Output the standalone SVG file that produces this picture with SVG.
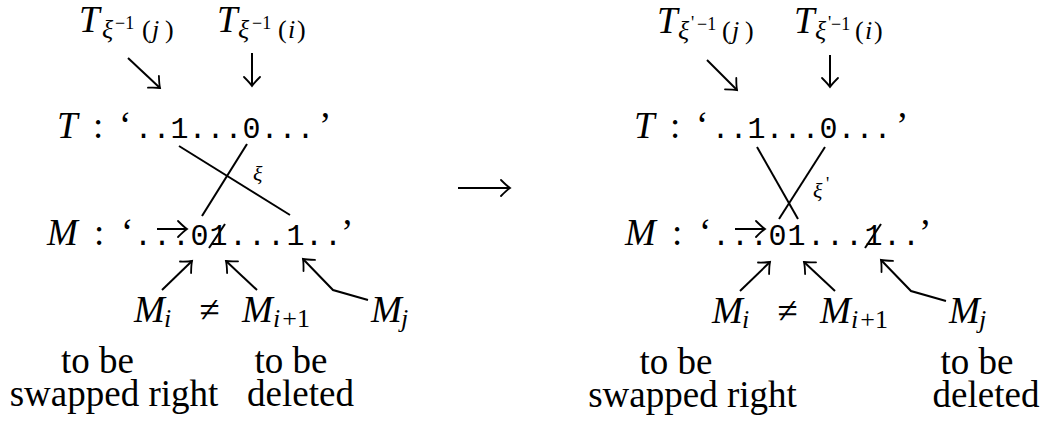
<svg xmlns="http://www.w3.org/2000/svg" width="1049" height="422" viewBox="0 0 1049 422">
<defs>
<marker id="ah" markerUnits="userSpaceOnUse" markerWidth="24" markerHeight="24" viewBox="-12 -12 16 24" refX="0" refY="0" orient="auto">
<path d="M-9,-8 Q-3,-2 0,0 Q-3,2 -9,8" fill="none" stroke="#000" stroke-width="1.8" stroke-linecap="round"/>
</marker>
<style>
text{font-family:'Liberation Serif',serif;fill:#000}
.it{font-style:italic}
.tt{font-family:'Liberation Mono',monospace;font-size:30px}
.big{font-size:37px}
.sub{font-size:26px}
.ss{font-size:18px}
.xi{font-size:22px}
.note{font-size:37px;text-anchor:middle}
.ln{stroke:#000;stroke-width:2;fill:none}
.ar{stroke:#000;stroke-width:2;fill:none;marker-end:url(#ah)}
</style>
</defs>
<rect width="1049" height="422" fill="#fff"/>

<g id="left-Tj">
<text class="it big" x="79" y="32">T</text>
<text class="it sub" x="102" y="38">ξ</text>
<text class="ss" x="115" y="29">−1</text>
<text class="sub" y="38"><tspan x="142">(</tspan><tspan class="it" x="152">j</tspan><tspan x="165">)</tspan></text>
</g>
<g id="left-Ti">
<text class="it big" x="217" y="32">T</text>
<text class="it sub" x="238" y="38">ξ</text>
<text class="ss" x="252" y="29">−1</text>
<text class="sub" y="38"><tspan x="278">(</tspan><tspan class="it" x="288">i</tspan><tspan x="297">)</tspan></text>
</g>
<g id="left-T">
<text class="it big" x="57" y="138">T</text>
<text class="big" x="93" y="138">:</text>
<text class="big" x="119" y="138">‘</text>
<text class="tt" y="138" text-anchor="middle" x="143.5 161.5 179.5 197.5 215.5 233.5 251.5 269.5 287.5 305.5">..1...0...</text>
<text class="big" x="319" y="138">’</text>
</g>
<g id="left-xi">
<text class="it xi" x="253" y="181">ξ</text>
</g>
<g id="left-M">
<text class="it big" x="47" y="245">M</text>
<text class="big" x="94" y="245">:</text>
<text class="big" x="121" y="245">‘</text>
<text class="tt" y="245" text-anchor="middle" x="143 162 181 199.5 218.5 238 257 276 295.5 314 333">...01...1..</text>
<line class="ln" x1="209" y1="248" x2="225" y2="224"/>
<line class="ar" x1="157" y1="229" x2="187" y2="229"/>
<text class="big" x="341" y="245">’</text>
</g>
<g id="left-Mi">
<text class="it big" x="134" y="322">M</text>
<text class="it sub" x="164" y="327">i</text>
</g>
<g id="left-neq">
<text class="big" x="209.5" y="322" text-anchor="middle">≠</text>
</g>
<g id="left-Mi1">
<text class="it big" x="242" y="322">M</text>
<text class="sub" y="327"><tspan class="it" x="273">i</tspan><tspan dx="2">+1</tspan></text>
</g>
<g id="left-Mj">
<text class="it big" x="371" y="322">M</text>
<text class="it sub" x="401" y="327">j</text>
</g>
<g id="left-note-swap">
<text class="note" x="97.5" y="373">to be</text>
<text class="note" x="114" y="406">swapped right</text>
</g>
<g id="left-note-delete">
<text class="note" x="291" y="373">to be</text>
<text class="note" x="300.5" y="406">deleted</text>
</g>

<g id="right-Tj">
<text class="it big" x="657" y="33">T</text>
<text class="it sub" x="678" y="39">ξ</text>
<text class="ss" x="691" y="29">'</text>
<text class="ss" x="697" y="30">−1</text>
<text class="sub" y="39"><tspan x="722">(</tspan><tspan class="it" x="732">j</tspan><tspan x="745">)</tspan></text>
</g>
<g id="right-Ti">
<text class="it big" x="794" y="33">T</text>
<text class="it sub" x="815" y="39">ξ</text>
<text class="ss" x="828" y="29">'</text>
<text class="ss" x="831" y="30">−1</text>
<text class="sub" y="39"><tspan x="855">(</tspan><tspan class="it" x="865">i</tspan><tspan x="874">)</tspan></text>
</g>
<g id="right-T">
<text class="it big" x="634" y="138">T</text>
<text class="big" x="670" y="138">:</text>
<text class="big" x="696" y="138">‘</text>
<text class="tt" y="138" text-anchor="middle" x="720.5 738.5 756.5 774.5 792.5 810.5 828.5 846.5 864.5 882.5">..1...0...</text>
<text class="big" x="896" y="138">’</text>
</g>
<g id="right-xi">
<text class="it xi" x="813" y="198">ξ</text>
<text class="ss" x="826" y="190">'</text>
</g>
<g id="right-M">
<text class="it big" x="625" y="245">M</text>
<text class="big" x="672" y="245">:</text>
<text class="big" x="699" y="245">‘</text>
<text class="tt" y="245" text-anchor="middle" x="721 740 759 777.5 796.5 816 835 854 873.5 892 911">...01...1..</text>
<line class="ln" x1="865" y1="248" x2="881" y2="224"/>
<line class="ar" x1="735" y1="229" x2="765" y2="229"/>
<text class="big" x="919" y="245">’</text>
</g>
<g id="right-Mi">
<text class="it big" x="712" y="323">M</text>
<text class="it sub" x="742" y="328">i</text>
</g>
<g id="right-neq">
<text class="big" x="787.5" y="323" text-anchor="middle">≠</text>
</g>
<g id="right-Mi1">
<text class="it big" x="820" y="323">M</text>
<text class="sub" y="328"><tspan class="it" x="851">i</tspan><tspan dx="2">+1</tspan></text>
</g>
<g id="right-Mj">
<text class="it big" x="949" y="323">M</text>
<text class="it sub" x="979" y="328">j</text>
</g>
<g id="right-note-swap">
<text class="note" x="676" y="374">to be</text>
<text class="note" x="692.5" y="407">swapped right</text>
</g>
<g id="right-note-delete">
<text class="note" x="977" y="374">to be</text>
<text class="note" x="986" y="407">deleted</text>
</g>

<g id="connectors">
<line class="ar" x1="128" y1="58" x2="160" y2="88"/>
<line class="ar" x1="252" y1="53" x2="252" y2="86"/>
<line class="ln" x1="179" y1="146" x2="290" y2="215"/>
<line class="ln" x1="247" y1="144" x2="202" y2="216"/>
<line class="ar" x1="162" y1="290" x2="192" y2="261"/>
<line class="ar" x1="257" y1="290" x2="226" y2="261"/>
<polyline class="ar" points="368,300 333,290 303,259"/>
<line class="ar" x1="458" y1="188" x2="510" y2="188"/>
<line class="ar" x1="707" y1="60" x2="737" y2="90"/>
<line class="ar" x1="830" y1="55" x2="830" y2="87"/>
<line class="ln" x1="757" y1="147" x2="798" y2="219"/>
<line class="ln" x1="825" y1="147" x2="779" y2="219"/>
<line class="ar" x1="740" y1="291" x2="770" y2="262"/>
<line class="ar" x1="835" y1="291" x2="804" y2="262"/>
<polyline class="ar" points="946,301 911,291 881,260"/>
</g>
</svg>
